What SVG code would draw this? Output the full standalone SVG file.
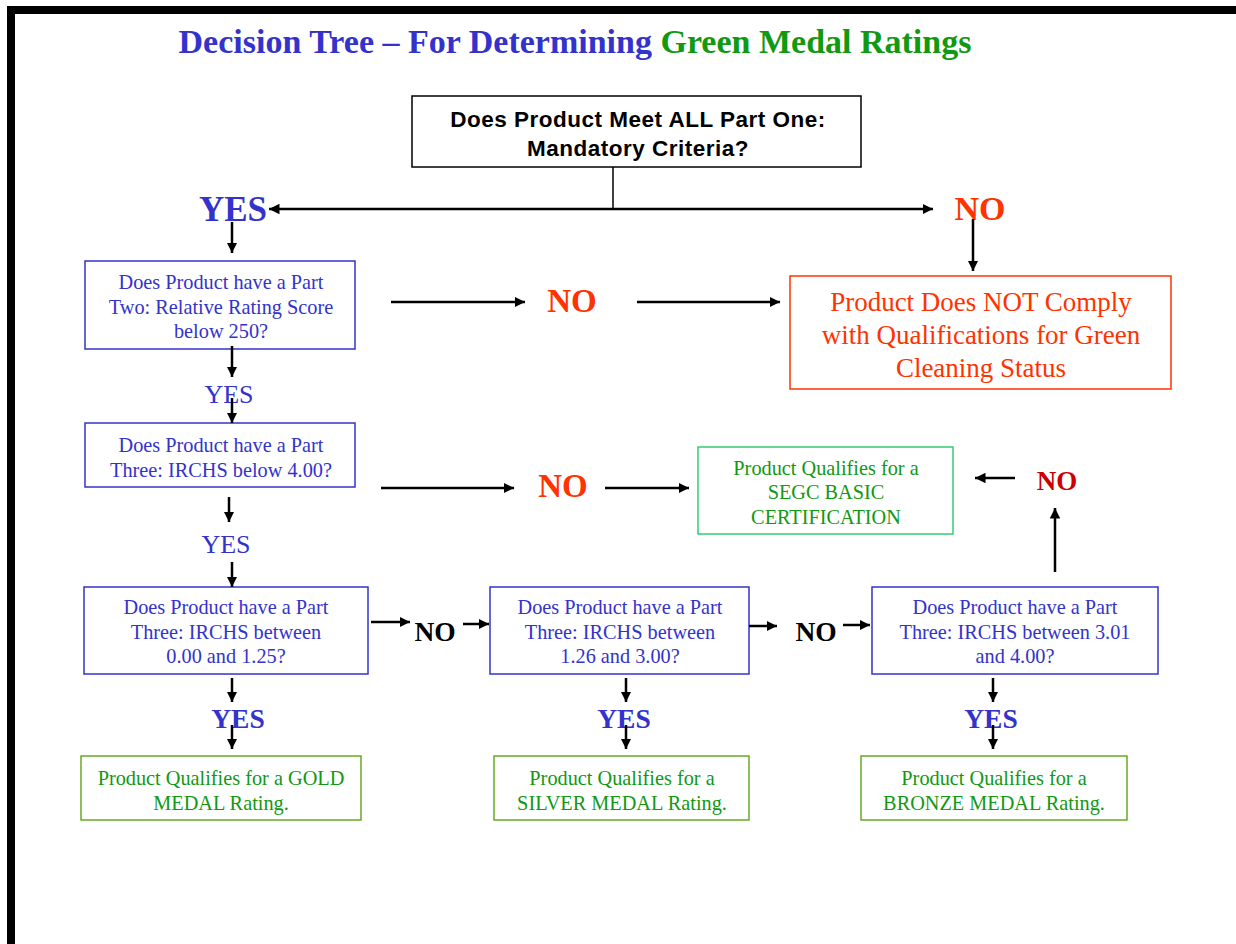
<svg xmlns="http://www.w3.org/2000/svg" width="1236" height="944" viewBox="0 0 1236 944">
<defs>
<marker id="ah" viewBox="0 0 10 10" refX="10" refY="5" markerWidth="4.2" markerHeight="4.2" orient="auto-start-reverse" markerUnits="strokeWidth">
<path d="M0,0 L10,5 L0,10 z" fill="#000"/>
</marker>
</defs>
<style>
.q{fill:#fff;stroke:#3333CC;stroke-width:1.5}
.qt{font-family:"Liberation Serif",serif;font-size:20.3px;fill:#3333CC;text-anchor:middle}
.g{fill:#fff;stroke:#66AA22;stroke-width:1.5}
.gt{font-family:"Liberation Serif",serif;font-size:20.3px;fill:#119911;text-anchor:middle}
.rt{font-family:"Liberation Serif",serif;font-size:27px;fill:#FF3300;text-anchor:middle}
.a{stroke:#000;stroke-width:2.5;fill:none;marker-end:url(#ah)}
.lbl{font-family:"Liberation Serif",serif;font-weight:bold;text-anchor:middle}
.pt{font-family:"Liberation Sans",Arial,sans-serif;font-weight:bold;font-size:22.5px;letter-spacing:0.5px;text-anchor:middle}
</style>
<rect width="1236" height="944" fill="#fff"/>
<path d="M11,944 V10 H1236" stroke="#000" stroke-width="8" fill="none"/>
<text x="575" y="53" font-family="Liberation Serif,serif" font-weight="bold" font-size="34" text-anchor="middle"><tspan fill="#3333CC">Decision Tree – For Determining </tspan><tspan fill="#119911">Green Medal Ratings</tspan></text>

<g id="n-part-one">
<rect x="412" y="96" width="449" height="71" fill="#fff" stroke="#000" stroke-width="1.5"/>
<text class="pt" x="638" y="127">Does Product Meet ALL Part One:</text>
<text class="pt" x="638" y="156">Mandatory Criteria?</text>
</g>

<g id="n-part-two">
<rect class="q" x="85" y="261" width="270" height="88"/>
<text class="qt" x="221" y="289">Does Product have a Part</text>
<text class="qt" x="221" y="314">Two: Relative Rating Score</text>
<text class="qt" x="221" y="338">below 250?</text>
</g>

<g id="n-not-comply">
<rect x="790" y="276" width="381" height="113" fill="#fff" stroke="#FF3300" stroke-width="1.5"/>
<text class="rt" x="981" y="311">Product Does NOT Comply</text>
<text class="rt" x="981" y="344">with Qualifications for Green</text>
<text class="rt" x="981" y="377">Cleaning Status</text>
</g>

<g id="n-part-three">
<rect class="q" x="85" y="423" width="270" height="64"/>
<text class="qt" x="221" y="452">Does Product have a Part</text>
<text class="qt" x="221" y="477">Three: IRCHS below 4.00?</text>
</g>

<g id="n-basic">
<rect x="698" y="447" width="255" height="87" fill="#fff" stroke="#33CC77" stroke-width="1.5"/>
<text class="gt" x="826" y="475">Product Qualifies for a</text>
<text class="gt" x="826" y="499">SEGC BASIC</text>
<text class="gt" x="826" y="524">CERTIFICATION</text>
</g>

<g id="n-range-a">
<rect class="q" x="84" y="587" width="284" height="87"/>
<text class="qt" x="226" y="614">Does Product have a Part</text>
<text class="qt" x="226" y="639">Three: IRCHS between</text>
<text class="qt" x="226" y="663">0.00 and 1.25?</text>
</g>

<g id="n-range-b">
<rect class="q" x="490" y="587" width="259" height="87"/>
<text class="qt" x="620" y="614">Does Product have a Part</text>
<text class="qt" x="620" y="639">Three: IRCHS between</text>
<text class="qt" x="620" y="663">1.26 and 3.00?</text>
</g>

<g id="n-range-c">
<rect class="q" x="872" y="587" width="286" height="87"/>
<text class="qt" x="1015" y="614">Does Product have a Part</text>
<text class="qt" x="1015" y="639">Three: IRCHS between 3.01</text>
<text class="qt" x="1015" y="663">and 4.00?</text>
</g>

<g id="n-gold">
<rect class="g" x="81" y="756" width="280" height="64"/>
<text class="gt" x="221" y="785">Product Qualifies for a GOLD</text>
<text class="gt" x="221" y="810">MEDAL Rating.</text>
</g>

<g id="n-silver">
<rect class="g" x="494" y="756" width="255" height="64"/>
<text class="gt" x="622" y="785">Product Qualifies for a</text>
<text class="gt" x="622" y="810">SILVER MEDAL Rating.</text>
</g>

<g id="n-bronze">
<rect class="g" x="861" y="756" width="266" height="64"/>
<text class="gt" x="994" y="785">Product Qualifies for a</text>
<text class="gt" x="994" y="810">BRONZE MEDAL Rating.</text>
</g>

<g id="labels">
<text class="lbl" x="233" y="221" font-size="35" fill="#3333CC">YES</text>
<text class="lbl" x="980" y="220" font-size="34" fill="#FF3300">NO</text>
<text class="lbl" x="572" y="312" font-size="33" fill="#FF3300">NO</text>
<text x="229" y="403" font-family="Liberation Serif,serif" font-size="26" fill="#3333CC" text-anchor="middle">YES</text>
<text class="lbl" x="563" y="497" font-size="33" fill="#FF3300">NO</text>
<text x="226" y="553" font-family="Liberation Serif,serif" font-size="26" fill="#3333CC" text-anchor="middle">YES</text>
<text class="lbl" x="1057" y="490" font-size="27" fill="#CC0000">NO</text>
<text class="lbl" x="435" y="641" font-size="27.5" fill="#000">NO</text>
<text class="lbl" x="816" y="641" font-size="27.5" fill="#000">NO</text>
<text class="lbl" x="238" y="728" font-size="27.5" fill="#3333CC">YES</text>
<text class="lbl" x="624" y="728" font-size="27.5" fill="#3333CC">YES</text>
<text class="lbl" x="991" y="728" font-size="27.5" fill="#3333CC">YES</text>
</g>

<g id="connectors">
<line x1="613" y1="167" x2="613" y2="209" stroke="#000" stroke-width="1.5"/>
<line x1="613" y1="209" x2="269" y2="209" class="a" stroke-width="2.2"/>
<line x1="613" y1="209" x2="933" y2="209" class="a" stroke-width="2.2"/>
<line x1="232" y1="222" x2="232" y2="253" class="a"/>
<line x1="973" y1="219" x2="973" y2="271" class="a"/>
<line x1="391" y1="302" x2="525" y2="302" class="a"/>
<line x1="637" y1="302" x2="780" y2="302" class="a"/>
<line x1="232" y1="346" x2="232" y2="377" class="a"/>
<line x1="232" y1="398" x2="232" y2="423" class="a"/>
<line x1="381" y1="488" x2="514" y2="488" class="a"/>
<line x1="605" y1="488" x2="689" y2="488" class="a"/>
<line x1="229" y1="497" x2="229" y2="522" class="a"/>
<line x1="232" y1="562" x2="232" y2="587" class="a"/>
<line x1="1015" y1="478" x2="975" y2="478" class="a"/>
<line x1="1055" y1="572" x2="1055" y2="508" class="a"/>
<line x1="371" y1="622" x2="410" y2="622" class="a"/>
<line x1="463" y1="624" x2="489" y2="624" class="a"/>
<line x1="749" y1="626" x2="777" y2="626" class="a"/>
<line x1="843" y1="625" x2="870" y2="625" class="a"/>
<line x1="232" y1="678" x2="232" y2="702" class="a"/>
<line x1="232" y1="725" x2="232" y2="749" class="a"/>
<line x1="626" y1="678" x2="626" y2="702" class="a"/>
<line x1="626" y1="725" x2="626" y2="749" class="a"/>
<line x1="993" y1="678" x2="993" y2="702" class="a"/>
<line x1="993" y1="725" x2="993" y2="749" class="a"/>
</g>
</svg>
